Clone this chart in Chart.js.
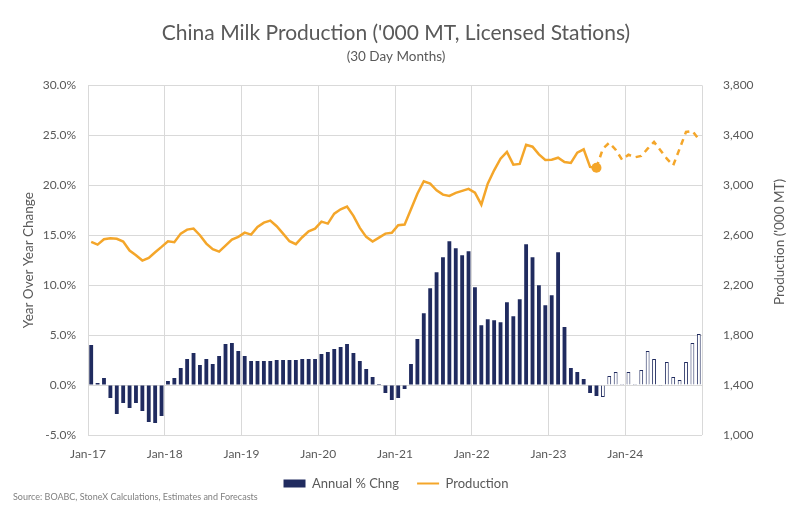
<!DOCTYPE html>
<html>
<head>
<meta charset="utf-8">
<script src="https://cdn.jsdelivr.net/npm/chart.js@4"></script>
<style>
  body { margin: 0; background: #fff; }
  #wrap { width: 792px; height: 515px; }
</style>
</head>
<body>
<div id="wrap"><canvas id="milkChart" width="792" height="515"></canvas></div>
<script>
// Monthly values, Jan-17 .. Dec-24
const tickLabels = ['Jan-17', 'Jan-18', 'Jan-19', 'Jan-20', 'Jan-21', 'Jan-22', 'Jan-23', 'Jan-24'];

const yoyChange = [
    4.0, 0.2, 0.7, -1.3, -2.9, -1.8, -2.3, -1.8, -2.6, -3.7, -3.8, -3.1,
    0.4, 0.7, 1.7, 2.6, 3.2, 2.0, 2.6, 2.1, 2.9, 4.1, 4.2, 3.4,
    2.9, 2.4, 2.4, 2.4, 2.4, 2.5, 2.5, 2.5, 2.5, 2.6, 2.6, 2.6,
    3.1, 3.3, 3.6, 3.8, 4.1, 3.2, 2.4, 1.6, 0.8, 0.1, -0.8, -1.5,
    -1.3, -0.4, 2.1, 4.6, 7.2, 9.7, 11.3, 12.8, 14.4, 13.7, 13.0, 13.4,
    9.8, 6.0, 6.6, 6.5, 6.3, 8.3, 6.9, 8.6, 14.1, 12.8, 10.0, 8.0,
    9.0, 13.3, 5.8, 1.7, 1.3, 0.6, -0.8, -1.1, -1.2, 0.9, 1.3, 0.1,
    1.3, 0.1, 1.5, 3.4, 2.6, -0.1, 2.3, 0.8, 0.5, 2.3, 4.2, 5.1
];

const production = [
    2547, 2525, 2568, 2576, 2571, 2549, 2477, 2440, 2397, 2419, 2464, 2507,
    2552, 2544, 2613, 2645, 2653, 2600, 2533, 2488, 2469, 2517, 2565, 2587,
    2621, 2605, 2667, 2701, 2717, 2672, 2613, 2552, 2528, 2584, 2632, 2653,
    2709, 2693, 2773, 2808, 2829, 2755, 2659, 2587, 2549, 2581, 2613, 2619,
    2680, 2685, 2808, 2933, 3032, 3013, 2960, 2925, 2915, 2939, 2955, 2971,
    2941, 2845, 3013, 3120, 3213, 3267, 3165, 3171, 3325, 3309, 3248, 3203,
    3205, 3221, 3187, 3179, 3261, 3288, 3147, 3141, 3293, 3341, 3285, 3205,
    3245, 3224, 3235, 3293, 3347, 3280, 3213, 3160, 3293, 3427, 3435, 3368
];

const lastActual = 79; // Aug-23, everything after is forecast

const navy = '#202b5f';
const gold = '#f4a62a';
const gridGrey = '#d9d9d9';
const textGrey = '#595959';
const fontFamily = 'Lato, "Liberation Sans", sans-serif';

Chart.defaults.font.family = fontFamily;
Chart.defaults.color = textGrey;

// right axis title reads bottom-to-top like the left one, plus the source note
const extrasPlugin = {
    id: 'extras',
    afterDraw(chart) {
        const ctx = chart.ctx;
        ctx.save();
        ctx.fillStyle = textGrey;
        ctx.font = '13.5px ' + fontFamily;
        ctx.textAlign = 'center';
        ctx.textBaseline = 'middle';
        ctx.translate(780, 242);
        ctx.rotate(-Math.PI / 2);
        ctx.fillText("Production ('000 MT)", 0, 0);
        ctx.restore();

        ctx.save();
        ctx.fillStyle = '#808080';
        ctx.font = '9px ' + fontFamily;
        ctx.textBaseline = 'middle';
        ctx.fillText('Source: BOABC, StoneX Calculations, Estimates and Forecasts', 13, 497);
        ctx.restore();
    }
};

new Chart(document.getElementById('milkChart'), {
    type: 'bar',
    data: {
        datasets: [{
            label: 'Annual % Chng',
            data: yoyChange.map((v, i) => ({ x: i + 0.5, y: v })),
            yAxisID: 'y',
            backgroundColor: ctx => ctx.dataIndex > lastActual ? '#ffffff' : navy,
            borderColor: navy,
            borderWidth: ctx => ctx.dataIndex > lastActual ? 1 : 0,
            barPercentage: 0.6,
            categoryPercentage: 1
        }, {
            type: 'line',
            label: 'Production',
            data: production.map((v, i) => ({ x: i + 0.5, y: v })),
            yAxisID: 'y1',
            borderColor: gold,
            backgroundColor: gold,
            borderWidth: 2.5,
            tension: 0,
            pointRadius: ctx => ctx.dataIndex === lastActual ? 5 : 0,
            pointHoverRadius: 5,
            pointBackgroundColor: gold,
            pointBorderWidth: 0,
            segment: {
                borderDash: ctx => ctx.p0DataIndex >= lastActual ? [6, 5] : undefined
            }
        }]
    },
    options: {
        responsive: false,
        animation: false,
        layout: { padding: { bottom: 15 } },
        plugins: {
            title: {
                display: true,
                text: "China Milk Production ('000 MT, Licensed Stations)",
                color: textGrey,
                font: { size: 21, weight: 'normal' },
                padding: { top: 21, bottom: 0 }
            },
            subtitle: {
                display: true,
                text: '(30 Day Months)',
                color: textGrey,
                font: { size: 13.5 },
                padding: { top: 2, bottom: 21 }
            },
            legend: {
                position: 'bottom',
                labels: {
                    usePointStyle: true,
                    pointStyleWidth: 22,
                    boxHeight: 8,
                    padding: 18,
                    color: textGrey,
                    font: { size: 13 },
                    generateLabels(chart) {
                        const items = Chart.defaults.plugins.legend.labels.generateLabels(chart);
                        items.forEach(item => {
                            if (item.datasetIndex === 0) {
                                item.pointStyle = 'rect';
                            } else {
                                item.pointStyle = 'line';
                                item.strokeStyle = gold;
                                item.lineWidth = 2;
                                item.lineDash = [];
                            }
                        });
                        return items;
                    }
                }
            },
            tooltip: { enabled: false }
        },
        scales: {
            x: {
                type: 'linear',
                min: 0,
                max: 96,
                offset: false,
                grid: { color: gridGrey, drawTicks: false, offset: false },
                border: { display: false },
                ticks: {
                    stepSize: 12,
                    autoSkip: false,
                    maxRotation: 0,
                    padding: 12,
                    color: textGrey,
                    font: { size: 12 },
                    callback: v => tickLabels[v / 12] || ''
                },
                afterFit: s => { s.height = 24; }
            },
            y: {
                position: 'left',
                min: -5,
                max: 30,
                grid: { color: gridGrey, drawTicks: false },
                border: { display: false },
                ticks: {
                    stepSize: 5,
                    padding: 12,
                    color: textGrey,
                    font: { size: 12 },
                    callback: v => v.toFixed(1) + '%'
                },
                title: {
                    display: true,
                    text: 'Year Over Year Change',
                    color: textGrey,
                    font: { size: 13.5 },
                    padding: { top: 21, bottom: 0 }
                },
                afterFit: s => { s.width = 88; }
            },
            y1: {
                position: 'right',
                min: 1000,
                max: 3800,
                grid: { display: false },
                border: { display: false },
                ticks: {
                    stepSize: 400,
                    padding: 13,
                    color: textGrey,
                    font: { size: 12 },
                    callback: v => v.toLocaleString('en-US')
                },
                afterFit: s => { s.width = 90; }
            }
        }
    },
    plugins: [extrasPlugin]
});
</script>
</body>
</html>
